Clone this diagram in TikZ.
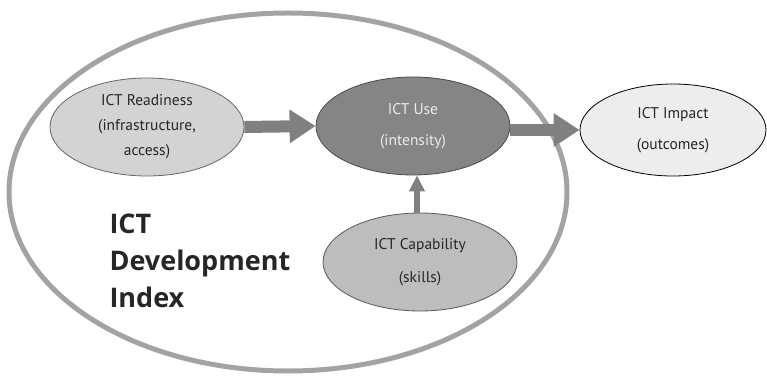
\documentclass[tikz,border=0pt]{standalone}
\usepackage{fontspec}
\setmainfont{PT Sans}
\newfontfamily\bigfont{Open Sans}
\usetikzlibrary{arrows.meta,shapes.geometric}
\definecolor{ringgray}{HTML}{A3A3A3}
\definecolor{arrowgray}{HTML}{808080}
\definecolor{readyfill}{HTML}{D3D3D3}
\definecolor{usefill}{HTML}{858585}
\definecolor{impactfill}{HTML}{EDEDED}
\definecolor{capfill}{HTML}{BDBDBD}
\definecolor{inkgray}{HTML}{262626}
\tikzset{
  oval/.style={ellipse, draw=#1, line width=0.8pt, minimum width=194pt, minimum height=98pt, inner sep=0pt, align=center, text=inkgray, font=\fontsize{15.5}{25}\selectfont},
  fatarrow/.style={draw=arrowgray, line width=12pt, -{Triangle[length=26pt,width=32pt]}},
  thinarrow/.style={draw=arrowgray, line width=6pt, -{Triangle[length=16pt,width=15pt]}}
}
\begin{document}
\begin{tikzpicture}[x=1pt,y=-1pt]
\useasboundingbox (0,0) rectangle (767,379);
\fill[white] (0,0) rectangle (767,379);
\node[ellipse, draw=ringgray, line width=5pt, minimum width=558pt, minimum height=358pt, inner sep=0pt] (idi) at (288,192) {};
\node[oval=gray!80!black, fill=readyfill] (ready) at (147,127) {ICT Readiness\\(infrastructure,\\access)};
\node[oval=gray!60!black, fill=usefill, text=white!92!black, font=\fontsize{15.5}{31}\selectfont] (use) at (413,126) {ICT Use\\(intensity)};
\node[oval=black, fill=impactfill, minimum width=186pt, minimum height=92pt, font=\fontsize{15.5}{31}\selectfont] (impact) at (673,130) {ICT Impact\\(outcomes)};
\node[oval=gray!70!black, fill=capfill, font=\fontsize{15.5}{33}\selectfont] (cap) at (420,262) {ICT Capability\\(skills)};
\draw[fatarrow] (ready.east) -- (use.west);
\draw[fatarrow] (use.east |- 0,130) -- (impact.west);
\draw[thinarrow] (cap.north -| 417,0) -- (use.south -| 417,0);
\node[font=\bigfont\bfseries\fontsize{27}{37}\selectfont, text=inkgray, align=left, anchor=north west] (label) at (106,210) {ICT\\Development\\Index};
\end{tikzpicture}
\end{document}
